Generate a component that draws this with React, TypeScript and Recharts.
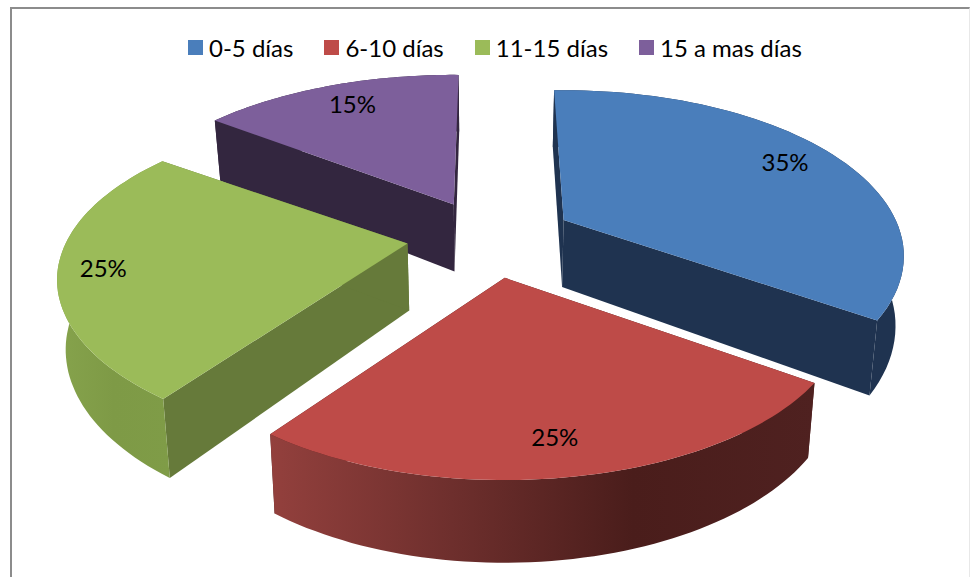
import { PieChart, Pie, Legend } from 'recharts';

const CATEGORIES = ['0-5 días', '6-10 días', '11-15 días', '15 a mas días'];
const VALUES = [35, 25, 25, 15];
const TOP_COLORS = ['#4a7ebb', '#be4b48', '#9bbb59', '#7d5f9b'];
const WALL_COLORS = ['#1f3350', '#4a1d1c', '#667a3a', '#33263f'];
const RIM_STOPS = [
  ['#1f3350', '#1f3350'],
  ['#93403d', '#6e2f2d', '#4a1d1b', '#4f2120'],
  ['#86a34c', '#7e9a46', '#7f9c47'],
  ['#33263f', '#33263f'],
];

const data = CATEGORIES.map((name, i) => ({ name, value: VALUES[i], fill: TOP_COLORS[i] }));

// fake 3D: tilted disc with a bit of perspective
const RX = 332;
const RY = 158;
const PERSP = 0.219;
const DEPTH = 67;
const BASE_SHRINK = 0.98;
const EXPLODE = 0.25;
const FONT = 'Lato, sans-serif';
// small per-slice corrections, the source's perspective is not a clean projection
const SLICE_TURN = [0, 1.5, 2, 3];
const SLICE_SHIFT_X = [2, 0, 0, 5];
const SLICE_SHIFT_Y = [0, 0, -3, 0];
const SLICE_WIDEN = [1, 1, 1.03, 1.02];
const LABEL_SHIFT = [
  [0, 0],
  [-14, 2],
  [-24, -2],
  [14, -2],
];

const rad = (d: number) => (d * Math.PI) / 180;

function project(theta: number, r: number) {
  const u = r * Math.sin(rad(theta));
  const v = -r * Math.cos(rad(theta));
  const w = 1 / (1 - PERSP * v);
  return { x: RX * u * w, y: RY * v * w, w };
}

function sliceApex(cx: number, cy: number, midAngle: number, index: number) {
  const mid = 90 - midAngle;
  return {
    x: cx + EXPLODE * RX * Math.sin(rad(mid)) + SLICE_SHIFT_X[index],
    y: cy - EXPLODE * RY * Math.cos(rad(mid)) + SLICE_SHIFT_Y[index],
    w: 1,
  };
}

function Slice3D(props: any, layer: number[]) {
  const { cx, cy, startAngle, endAngle, midAngle, index } = props;
  if (!layer.includes(index)) return <g />;

  // recharts angles run counter-clockwise from 3 o'clock, theta is clockwise from the back
  const from = 90 - startAngle + SLICE_TURN[index];
  const to = 90 - endAngle + SLICE_TURN[index];
  const apex = sliceApex(cx, cy, midAngle, index);

  const topPts: { x: number; y: number; w: number }[] = [];
  for (let i = 0; i <= 60; i++) {
    const p = project(from + ((to - from) * i) / 60, 1);
    topPts.push({ x: apex.x + p.x * SLICE_WIDEN[index], y: apex.y + p.y, w: p.w });
  }
  const base = (p: { x: number; y: number; w: number }) => ({
    x: cx + (p.x - cx) * BASE_SHRINK,
    y: p.y + DEPTH * Math.pow(p.w, 0.85),
  });
  const toPath = (pts: { x: number; y: number }[]) =>
    'M' + pts.map((p) => `${p.x.toFixed(1)},${p.y.toFixed(1)}`).join('L') + 'Z';

  const first = topPts[0];
  const last = topPts[topPts.length - 1];
  const baseArc = topPts.map(base).reverse();
  const stops = RIM_STOPS[index];
  const gradId = `rim-${index}`;

  return (
    <g>
      <defs>
        <linearGradient id={gradId} x1="0" y1="0" x2="1" y2="0">
          {stops.map((c, i) => (
            <stop key={i} offset={i / (stops.length - 1)} stopColor={c} />
          ))}
        </linearGradient>
      </defs>
      <path d={toPath([apex, first, base(first), base(apex)])} fill={WALL_COLORS[index]} />
      <path d={toPath([apex, last, base(last), base(apex)])} fill={WALL_COLORS[index]} />
      <path d={toPath([...topPts, ...baseArc])} fill={`url(#${gradId})`} />
      <path d={toPath([apex, ...topPts])} fill={TOP_COLORS[index]} />
    </g>
  );
}

function renderLabel(props: any) {
  const { cx, cy, midAngle, value, index } = props;
  const apex = sliceApex(cx, cy, midAngle, index);
  const p = project(90 - midAngle, 0.83);
  return (
    <text
      x={apex.x + p.x + LABEL_SHIFT[index][0]}
      y={apex.y + p.y + LABEL_SHIFT[index][1]}
      textAnchor="middle"
      dominantBaseline="central"
      fill="#000"
      fontFamily={FONT}
      fontSize={24}
    >
      {`${value}%`}
    </text>
  );
}

function renderLegend(props: any) {
  // both pies report their slices, keep one entry per category
  const items = CATEGORIES.map((name) => props.payload.find((p: any) => p.value === name)).filter(Boolean);
  return (
    <div style={{ display: 'flex', gap: 31, fontFamily: FONT, fontSize: 24, color: '#000', whiteSpace: 'nowrap' }}>
      {items.map((item: any) => (
        <span key={item.value} style={{ display: 'flex', alignItems: 'center', gap: 6 }}>
          <span style={{ width: 15, height: 15, background: item.color, display: 'inline-block' }} />
          {item.value}
        </span>
      ))}
    </div>
  );
}

export default function App() {
  return (
    <div style={{ position: 'absolute', left: 0, top: 0, width: 970, height: 577, background: '#fff', overflow: 'hidden' }}>
      <div
        style={{
          position: 'absolute',
          left: 10,
          top: 7,
          width: 960,
          height: 590,
          borderLeft: '2px solid #8c8c8c',
          borderTop: '2px solid #8c8c8c',
          borderRight: '1px solid #e8e8e8',
          boxSizing: 'border-box',
        }}
      />
      <PieChart width={970} height={577} margin={{ top: 0, right: 0, bottom: 0, left: 0 }} style={{ position: 'absolute' }}>
        <Legend
          content={renderLegend}
          verticalAlign="top"
          wrapperStyle={{ top: 33, left: 188, width: 'auto' }}
        />
        {/* back slices first so the green one can cover the purple wall */}
        <Pie
          data={data}
          dataKey="value"
          nameKey="name"
          cx={489}
          cy={210}
          outerRadius={RX}
          startAngle={92}
          endAngle={-268}
          stroke="none"
          legendType="none"
          label={false}
          labelLine={false}
          shape={(p: any) => Slice3D(p, [0, 3])}
          isAnimationActive={false}
        />
        <Pie
          data={data}
          dataKey="value"
          nameKey="name"
          cx={489}
          cy={210}
          outerRadius={RX}
          startAngle={92}
          endAngle={-268}
          stroke="none"
          label={renderLabel}
          labelLine={false}
          shape={(p: any) => Slice3D(p, [1, 2])}
          isAnimationActive={false}
        />
      </PieChart>
    </div>
  );
}
